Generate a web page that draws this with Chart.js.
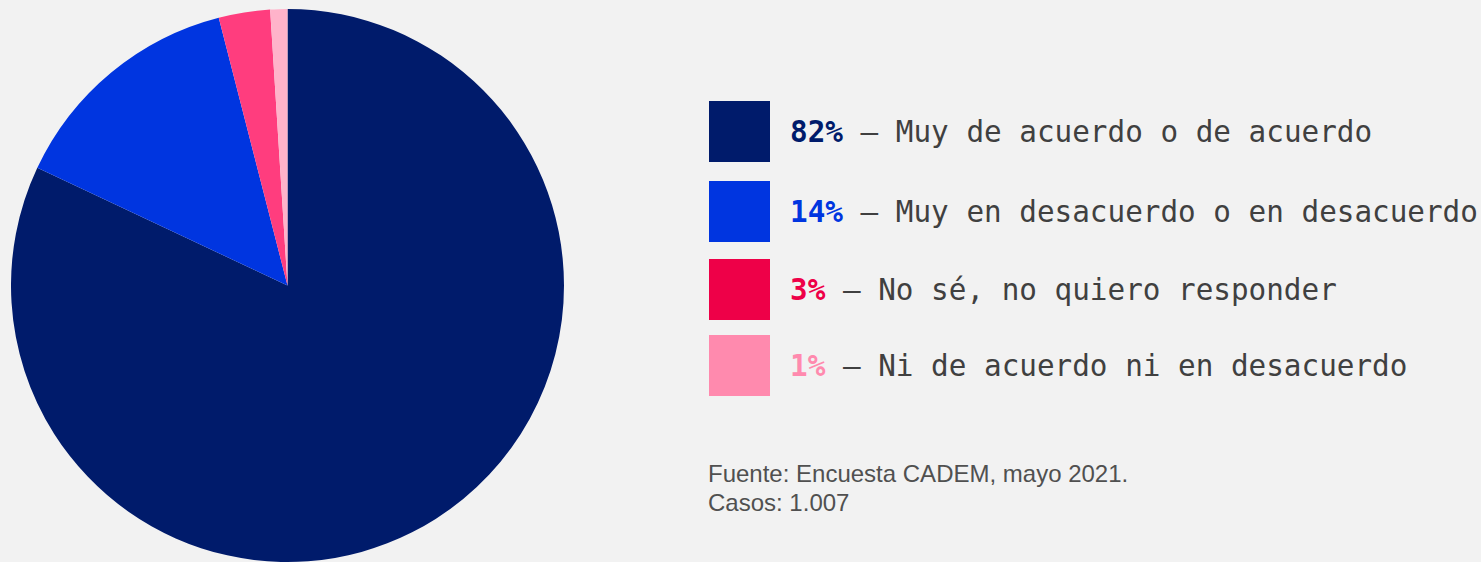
<!DOCTYPE html>
<html>
<head>
<meta charset="utf-8">
<script src="https://cdn.jsdelivr.net/npm/chart.js@4.4.0/dist/chart.umd.min.js"></script>
<style>
  html, body { margin: 0; padding: 0; }
  body { width: 1481px; height: 562px; overflow: hidden; background: #F2F2F2; position: relative; }
  #pieBox { position: absolute; left: 11px; top: 9px; width: 553px; height: 553px; }
  #legend { position: absolute; left: 709px; top: 101px; }
  .row { display: flex; align-items: center; height: 61px; margin-bottom: 17px; }
  .row:nth-child(1) { margin-bottom: 19px; }
  .row:nth-child(2) { margin-bottom: 17px; }
  .row:nth-child(3) { margin-bottom: 15px; }
  .sw { width: 61px; height: 61px; margin-right: 20px; flex: none; }
  .txt { font-family: 'DejaVu Sans Mono', monospace; font-size: 29.3px; color: #404040; white-space: pre; }
  .txt b { font-weight: bold; }
  #source { position: absolute; left: 708px; top: 459px; font-family: 'Liberation Sans', Arial, sans-serif; font-size: 24px; line-height: 29px; color: #505050; }
</style>
</head>
<body>
<div id="pieBox"><canvas id="c"></canvas></div>
<div id="legend"></div>
<div id="source">Fuente: Encuesta CADEM, mayo 2021.<br>Casos: 1.007</div>
<script>
const categories = ['Muy de acuerdo o de acuerdo', 'Muy en desacuerdo o en desacuerdo', 'No sé, no quiero responder', 'Ni de acuerdo ni en desacuerdo'];
const values = [82, 14, 3, 1];
const sliceColors = ['#001B6B', '#0035E0', '#FF3D7E', '#FFB3CA'];
const legendColors = ['#001B6B', '#0035E0', '#EE0048', '#FF8AAE'];

const legend = document.getElementById('legend');
categories.forEach((cat, i) => {
  const row = document.createElement('div');
  row.className = 'row';
  const sw = document.createElement('div');
  sw.className = 'sw';
  sw.style.background = legendColors[i];
  const txt = document.createElement('div');
  txt.className = 'txt';
  const b = document.createElement('b');
  b.style.color = legendColors[i];
  b.textContent = values[i] + '%';
  txt.appendChild(b);
  txt.appendChild(document.createTextNode(' — ' + cat));
  row.appendChild(sw);
  row.appendChild(txt);
  legend.appendChild(row);
});

new Chart(document.getElementById('c'), {
  type: 'pie',
  data: {
    labels: categories,
    datasets: [{ data: values, backgroundColor: sliceColors, borderWidth: 0, hoverOffset: 0 }]
  },
  options: {
    responsive: true,
    maintainAspectRatio: false,
    animation: false,
    layout: { padding: 0 },
    plugins: { legend: { display: false }, tooltip: { enabled: false } }
  }
});
</script>
</body>
</html>
